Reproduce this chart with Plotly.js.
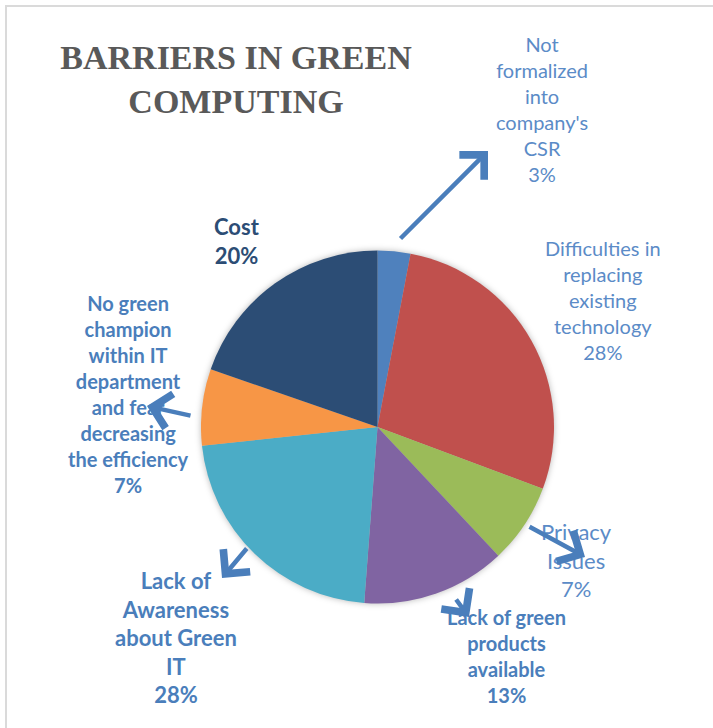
<!DOCTYPE html>
<html>
<head>
<meta charset="utf-8">
<script src="https://cdn.plot.ly/plotly-3.0.1.min.js"></script>
<style>
  html, body { margin: 0; padding: 0; background: #fff; }
  #chart { width: 713px; height: 728px; position: relative; }
  #frame { position: absolute; left: 5px; top: 5px; width: 720px; height: 740px;
           border-top: 2px solid #dadada; border-left: 2px solid #dadada;
           pointer-events: none; z-index: 10; }
</style>
</head>
<body>
<div id="chart"></div>
<div id="frame"></div>
<script>
// ---- data ----
const categories = [
  "Not formalized into company's CSR",
  "Difficulties in replacing existing technology",
  "Privacy Issues",
  "Lack of green products available",
  "Lack of Awareness about Green IT",
  "No green champion within IT department and fear decreasing the efficiency",
  "Cost"
];
const values = [3, 27.7, 7.3, 13.2, 22.1, 7.0, 19.7];
const labelTexts = [
  "Not<br>formalized<br>into<br>company's<br>CSR<br>3%",
  "Difficulties in<br>replacing<br>existing<br>technology<br>28%",
  "Privacy<br>Issues<br>7%",
  "Lack of green<br>products<br>available<br>13%",
  "Lack of<br>Awareness<br>about Green<br>IT<br>28%",
  "No green<br>champion<br>within IT<br>department<br>and fear<br>decreasing<br>the efficiency<br>7%",
  "Cost<br>20%"
];
const sliceColors = ["#4F81BD", "#C0504D", "#9BBB59", "#8064A2", "#4BACC6", "#F79646", "#2C4D75"];
const chartTitle = "BARRIERS IN GREEN<br>COMPUTING";

// ---- layout helpers (pixel -> paper) ----
const W = 713, H = 728;
const px = x => x / W;
const py = y => 1 - y / H;

// label placement (centre in px), font size, weight, colour
const labelPos = [
  {x: 542, y: 109, size: 20, weight: 400, color: "#5B8BC7"},
  {x: 603, y: 300, size: 20, weight: 400, color: "#5B8BC7"},
  {x: 576, y: 560, size: 22, weight: 400, color: "#5B8BC7"},
  {x: 507, y: 656, size: 20, weight: 700, color: "#4A7EBB"},
  {x: 176, y: 637, size: 22, weight: 700, color: "#4A7EBB"},
  {x: 128, y: 394, size: 20, weight: 700, color: "#4A7EBB"},
  {x: 237, y: 241, size: 22, weight: 700, color: "#2C4D75"}
];
// arrows: head and tail in px (null = no arrow)
const arrows = [
  {hx: 488, hy: 151, tx: 399, ty: 240},
  null,
  {hx: 585, hy: 557, tx: 528, ty: 526},
  {hx: 469, hy: 617, tx: 455, ty: 598},
  {hx: 222, hy: 578, tx: 248, ty: 547},
  {hx: 147, hy: 406, tx: 192, ty: 416},
  null
];

const annotations = [];
labelTexts.forEach((t, i) => {
  const p = labelPos[i];
  annotations.push({
    text: t, xref: "paper", yref: "paper", x: px(p.x), y: py(p.y),
    xanchor: "center", yanchor: "middle", align: "center", showarrow: false,
    font: {family: "Lato, 'Open Sans', sans-serif", size: p.size, color: p.color, weight: p.weight}
  });
});
arrows.forEach(a => {
  if (!a) return;
  annotations.push({
    text: "", xref: "paper", yref: "paper", x: px(a.hx), y: py(a.hy),
    ax: a.tx - a.hx, ay: a.ty - a.hy, showarrow: true,
    arrowhead: 4, arrowsize: 1.5, arrowwidth: 4.5, arrowcolor: "#4A7EBB",
    standoff: 0, startstandoff: 0
  });
});

const cx = 377.5, cy = 427, r = 176.5;
const data = [{
  type: "pie",
  labels: categories,
  values: values,
  sort: false,
  direction: "clockwise",
  rotation: 0,
  textinfo: "none",
  hoverinfo: "label+percent",
  marker: {colors: sliceColors, line: {width: 0}},
  domain: {x: [px(cx - r), px(cx + r)], y: [py(cy + r), py(cy - r)]},
  showlegend: false
}];

const layout = {
  width: W, height: H,
  margin: {l: 0, r: 0, t: 0, b: 0},
  paper_bgcolor: "#ffffff",
  title: {
    text: chartTitle,
    x: px(236), xanchor: "center", xref: "paper",
    y: py(69), yanchor: "middle", yref: "container",
    font: {family: "'Liberation Serif', 'DejaVu Serif', serif", size: 34, color: "#595959", weight: 700}
  },
  annotations: annotations,
  showlegend: false
};

Plotly.newPlot("chart", data, layout, {displayModeBar: false, staticPlot: true}).then(() => {
  const pl = document.querySelector(".pielayer");
  if (pl) pl.style.filter = "drop-shadow(0px 0px 3px rgba(0,0,0,0.28))";
});
</script>
</body>
</html>
